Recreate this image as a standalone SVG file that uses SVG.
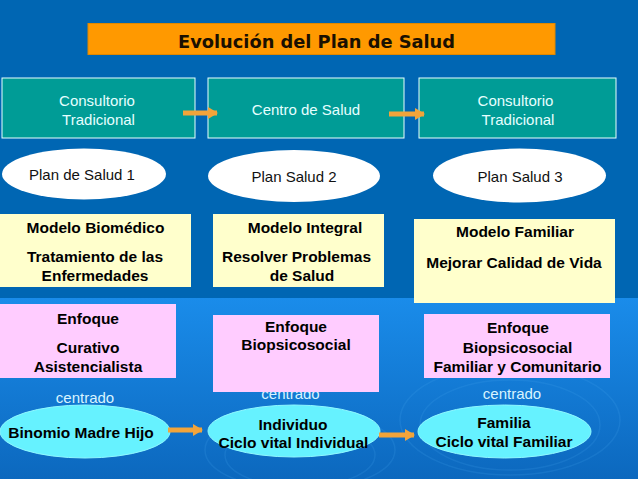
<svg xmlns="http://www.w3.org/2000/svg" width="638" height="479" viewBox="0 0 638 479">
<defs>
<linearGradient id="bgLow" x1="0" y1="0" x2="0" y2="1">
<stop offset="0" stop-color="#1A8CEA"/>
<stop offset="1" stop-color="#0C68BE"/>
</linearGradient>
<marker id="ah" viewBox="0 0 10 12" refX="9" refY="6" markerWidth="10" markerHeight="12" markerUnits="userSpaceOnUse" orient="auto">
<path d="M0,0 L10,6 L0,12 Z" fill="#F2A43A"/>
</marker>
</defs>
<style>
.teal{fill:#009C96;stroke:#E8FFFF;stroke-width:1}
.plan{fill:#FFFFFF}
.yel{fill:#FFFFCC}
.pink{fill:#FFCCFF}
.cyan{fill:#66F2FF;stroke:#8FF8FF;stroke-width:1}
.tw{font-family:"Liberation Sans",Arial,sans-serif;font-size:15px;fill:#E6FFFF;text-anchor:middle}
.tb{font-family:"Liberation Sans",Arial,sans-serif;font-size:15px;fill:#111111;text-anchor:middle}
.bb{font-family:"Liberation Sans",Arial,sans-serif;font-size:15.5px;font-weight:bold;fill:#000000;text-anchor:middle}
.cen{font-family:"Liberation Sans",Arial,sans-serif;font-size:15px;fill:#D8F4FF;text-anchor:middle}
.arr{fill:none;stroke:#F2A43A;stroke-width:5}
</style>
<rect x="0" y="0" width="638" height="298" fill="#0066B3"/>
<rect x="0" y="298" width="638" height="181" fill="url(#bgLow)"/>
<g fill="none" stroke="#4AA8F0" stroke-opacity="0.18" stroke-width="1.5">
<ellipse cx="300" cy="450" rx="95" ry="40"/>
<ellipse cx="300" cy="455" rx="75" ry="32"/>
<ellipse cx="510" cy="420" rx="110" ry="55"/>
<ellipse cx="510" cy="425" rx="90" ry="45"/>
</g>

<g id="title">
<rect x="88" y="23.5" width="467" height="31" fill="#FF9900" stroke="#E08800" stroke-width="1"/>
<text x="316.5" y="48" font-family="'DejaVu Sans',sans-serif" font-size="18" font-weight="bold" fill="#1A1000" text-anchor="middle" textLength="277" lengthAdjust="spacingAndGlyphs">Evolución del Plan de Salud</text>
</g>

<g id="consultorio1">
<rect class="teal" x="2" y="78" width="193" height="60"/>
<text class="tw" x="97" y="105.5">Consultorio</text>
<text class="tw" x="98.5" y="125">Tradicional</text>
</g>
<g id="centro">
<rect class="teal" x="208" y="78" width="196" height="60"/>
<text class="tw" x="306" y="115">Centro de Salud</text>
</g>
<g id="consultorio2">
<rect class="teal" x="419" y="78" width="197" height="60"/>
<text class="tw" x="515.5" y="105.5">Consultorio</text>
<text class="tw" x="518" y="125">Tradicional</text>
</g>

<g id="plan1">
<ellipse class="plan" cx="84" cy="174" rx="82" ry="25.5"/>
<text class="tb" x="82" y="180">Plan de Salud 1</text>
</g>
<g id="plan2">
<ellipse class="plan" cx="294" cy="176" rx="86" ry="26"/>
<text class="tb" x="294" y="182">Plan Salud 2</text>
</g>
<g id="plan3">
<ellipse class="plan" cx="519.5" cy="175.5" rx="86.5" ry="27"/>
<text class="tb" x="520" y="182">Plan Salud 3</text>
</g>

<g id="modelo1">
<rect class="yel" x="0" y="214" width="191" height="73"/>
<text class="bb" x="95.5" y="233">Modelo Biomédico</text>
<text class="bb" x="95" y="262">Tratamiento de las</text>
<text class="bb" x="95" y="281">Enfermedades</text>
</g>
<g id="modelo2">
<rect class="yel" x="213" y="214" width="171" height="73"/>
<text class="bb" x="305" y="233">Modelo Integral</text>
<text class="bb" x="296.5" y="262">Resolver Problemas</text>
<text class="bb" x="302" y="281">de Salud</text>
</g>
<g id="modelo3">
<rect class="yel" x="414" y="219" width="201" height="84"/>
<text class="bb" x="515" y="237">Modelo Familiar</text>
<text class="bb" x="514" y="268">Mejorar Calidad de Vida</text>
</g>

<g id="centrado-labels">
<text class="cen" x="85" y="403">centrado</text>
<text class="cen" x="290.5" y="399">centrado</text>
<text class="cen" x="512" y="399">centrado</text>
</g>

<g id="enfoque1">
<rect class="pink" x="0" y="304" width="176" height="74"/>
<text class="bb" x="88" y="324">Enfoque</text>
<text class="bb" x="88" y="353">Curativo</text>
<text class="bb" x="88" y="372">Asistencialista</text>
</g>
<g id="enfoque2">
<rect class="pink" x="213" y="315" width="166" height="77"/>
<text class="bb" x="296" y="332">Enfoque</text>
<text class="bb" x="296" y="350">Biopsicosocial</text>
</g>
<g id="enfoque3">
<rect class="pink" x="424" y="314" width="186" height="64"/>
<text class="bb" x="518" y="333">Enfoque</text>
<text class="bb" x="517.5" y="353">Biopsicosocial</text>
<text class="bb" x="517.5" y="372">Familiar y Comunitario</text>
</g>

<g id="binomio">
<ellipse class="cyan" cx="85" cy="431.5" rx="85" ry="26.5"/>
<text class="bb" x="81" y="438">Binomio Madre Hijo</text>
</g>
<g id="individuo">
<ellipse class="cyan" cx="294" cy="431" rx="86" ry="26"/>
<text class="bb" x="293" y="430">Individuo</text>
<text class="bb" x="293.5" y="447.5">Ciclo vital Individual</text>
</g>
<g id="familia">
<ellipse class="cyan" cx="504.5" cy="431.5" rx="86.5" ry="26.5"/>
<text class="bb" x="504" y="428">Familia</text>
<text class="bb" x="504" y="447">Ciclo vital Familiar</text>
</g>

<g id="connectors">
<line class="arr" x1="183" y1="113" x2="217" y2="113" marker-end="url(#ah)"/>
<line class="arr" x1="389" y1="114" x2="424" y2="114" marker-end="url(#ah)"/>
<line class="arr" x1="168" y1="430" x2="202" y2="430" marker-end="url(#ah)"/>
<line class="arr" x1="379" y1="435" x2="414" y2="435" marker-end="url(#ah)"/>
</g>
</svg>
